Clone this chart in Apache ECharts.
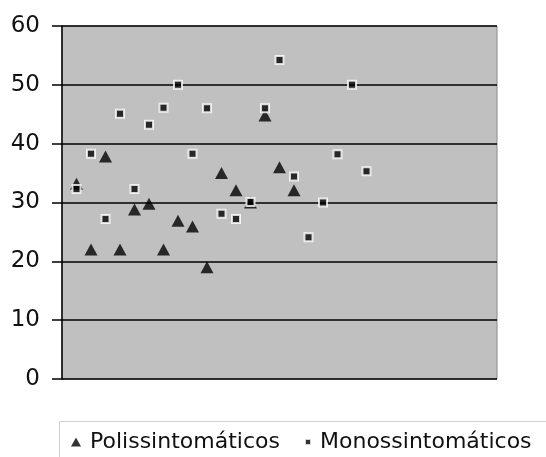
<!DOCTYPE html>
<html>
<head>
<meta charset="utf-8">
<script src="https://cdn.jsdelivr.net/npm/echarts@6/dist/echarts.min.js"></script>
<style>html,body{margin:0;padding:0;background:#fff;}#c{width:546px;height:457px;}</style>
</head>
<body>
<div id="c"></div>
<script>
// Data
const seriesNames = ['Polissintomáticos', 'Monossintomáticos'];
const xPoli = [1, 2, 3, 4, 5, 6, 7, 8, 9, 10, 11, 12, 13, 14, 15, 16];
const poli = [33.2, 22, 37.8, 22, 28.8, 29.8, 22, 26.9, 25.9, 19, 35, 32.1, 30, 44.8, 36, 32.1];
const xMono = [1, 2, 3, 4, 5, 6, 7, 8, 9, 10, 11, 12, 13, 14, 15, 16, 17, 18, 19, 20, 21];
const mono = [32.3, 38.3, 27.2, 45.1, 32.3, 43.2, 46.1, 50, 38.3, 46, 28.1, 27.2, 30.1, 46, 54.2, 34.4, 24.1, 30, 38.2, 50, 35.3];
const yTicks = [0, 10, 20, 30, 40, 50, 60];

const zip = (xs, ys) => xs.map((x, i) => [x, ys[i]]);

const legendText = {fontFamily: 'DejaVu Sans', fontSize: 22, color: '#111', padding: [0, 0, 0, 4]};

const chart = echarts.init(document.getElementById('c'), null, {renderer: 'canvas'});
chart.setOption({
  animation: false,
  backgroundColor: '#ffffff',
  textStyle: {fontFamily: 'DejaVu Sans'},
  grid: {left: 62, top: 26, right: 49, bottom: 78, show: true,
         backgroundColor: '#c0c0c0', borderColor: '#8a8a8a', borderWidth: 1},
  graphic: [{type: 'rect', left: 57, top: 419, shape: {width: 500, height: 60},
             style: {fill: 'none', stroke: '#cfcfcf', lineWidth: 1}, silent: true}],
  legend: [
    {data: [{name: seriesNames[0], icon: 'triangle'}], left: 66, top: 426,
     itemWidth: 10, itemHeight: 9, textStyle: legendText},
    {data: [{name: seriesNames[1], icon: 'rect'}], left: 299, top: 426,
     itemWidth: 6, itemHeight: 6, textStyle: legendText}
  ],
  xAxis: {type: 'value', min: 0, max: 30, show: false},
  yAxis: {
    type: 'value', min: yTicks[0], max: yTicks[yTicks.length - 1], interval: 10,
    axisLine: {show: true, lineStyle: {color: '#000', width: 1.5}},
    axisTick: {show: true, length: 10, lineStyle: {color: '#000', width: 1.5}},
    axisLabel: {margin: 22, fontSize: 23, color: '#111', fontFamily: 'DejaVu Sans'},
    splitLine: {show: true, lineStyle: {color: '#000', width: 1.5}}
  },
  series: [
    {name: seriesNames[0], type: 'scatter', symbol: 'triangle', symbolSize: [13, 12],
     itemStyle: {color: '#000'}, data: zip(xPoli, poli)},
    {name: seriesNames[1], type: 'scatter', symbol: 'rect', symbolSize: 8,
     itemStyle: {color: '#000', borderColor: '#fff', borderWidth: 2}, data: zip(xMono, mono)}
  ]
});
</script>
</body>
</html>
